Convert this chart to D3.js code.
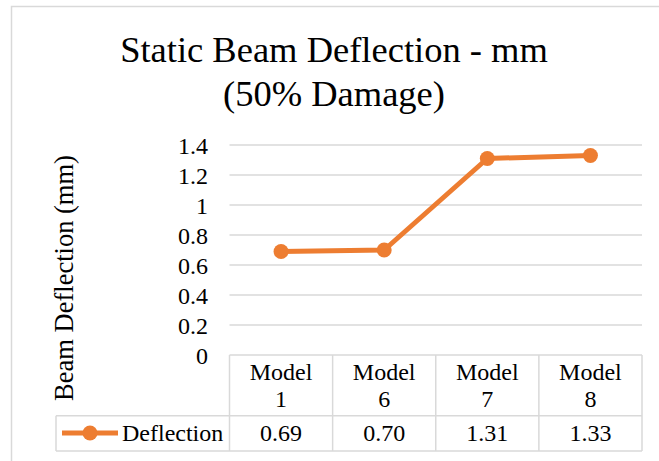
<!DOCTYPE html>
<html>
<head>
<meta charset="utf-8">
<script src="https://cdn.jsdelivr.net/npm/d3@7"></script>
<style>
  html, body { margin: 0; padding: 0; background: #fff; }
  svg text { font-family: 'Liberation Serif', 'Times New Roman', Times, serif; }
</style>
</head>
<body>
<svg id="chart" width="659" height="461" font-family="Liberation Serif, serif"></svg>
<script>
const categories = ["Model 1", "Model 6", "Model 7", "Model 8"];
const deflection = [0.69, 0.70, 1.31, 1.33];
const valueLabels = ["0.69", "0.70", "1.31", "1.33"];
const yTicks = [0, 0.2, 0.4, 0.6, 0.8, 1, 1.2, 1.4];
const seriesName = "Deflection";
const titleLines = ["Static Beam Deflection - mm", "(50% Damage)"];
const yTitle = "Beam Deflection (mm)";

const FONT = "Liberation Serif, serif";
const svg = d3.select("#chart");
const orange = "#ED7D31";
const grid = "#D9D9D9";

// outer chart border (extends beyond view on right/bottom)
svg.append("rect").attr("x", 11.5).attr("y", 6.5).attr("width", 720).attr("height", 520)
  .attr("fill", "#fff").attr("stroke", grid).attr("stroke-width", 1.5);

const x = d3.scaleBand().domain(categories).range([229.5, 642]).padding(0);
const y = d3.scaleLinear().domain([0, 1.4]).range([355, 145]);

// title
svg.append("text").attr("text-anchor", "middle").attr("font-family", FONT)
  .attr("font-size", 36.5).attr("fill", "#000")
  .selectAll("tspan").data(titleLines).join("tspan")
  .attr("x", 334).attr("y", (d, i) => 62 + i * 44).text(d => d);

// gridlines
svg.append("g").selectAll("line").data(yTicks.filter(d => d > 0)).join("line")
  .attr("x1", 229.5).attr("x2", 642).attr("y1", d => y(d)).attr("y2", d => y(d))
  .attr("stroke", grid).attr("stroke-width", 1.5);

// y axis labels
const yAxis = d3.axisLeft(y).tickValues(yTicks).tickSize(0).tickPadding(0).tickFormat(d3.format("~g"));
const yg = svg.append("g").attr("transform", "translate(208,0)").call(yAxis)
  .attr("font-family", FONT).attr("font-size", 24);
yg.select(".domain").remove();
yg.selectAll("text").attr("font-family", FONT).attr("font-size", 24)
  .attr("fill", "#000").attr("dy", "0.34em").attr("x", 0);

// y axis title
svg.append("text").attr("transform", "translate(73,278) rotate(-90)").attr("font-family", FONT)
  .attr("text-anchor", "middle").attr("font-size", 26.5).attr("fill", "#000").text(yTitle);

// data table
const tLeft = 56, tTop = y(0), tMid = 415.7, tBot = 451, tRight = x.range()[1];
const tg = svg.append("g").attr("stroke", grid).attr("stroke-width", 1.5).attr("fill", "none");
tg.append("line").attr("x1", x.range()[0]).attr("x2", tRight).attr("y1", tTop).attr("y2", tTop);
tg.append("line").attr("x1", tLeft).attr("x2", tRight).attr("y1", tMid).attr("y2", tMid);
tg.append("line").attr("x1", tLeft).attr("x2", tRight).attr("y1", tBot).attr("y2", tBot);
tg.append("line").attr("x1", tLeft).attr("x2", tLeft).attr("y1", tMid).attr("y2", tBot);
const cols = categories.map(c => x(c)).concat([tRight]);
tg.selectAll("line.col").data(cols).join("line").attr("class", "col")
  .attr("x1", d => d).attr("x2", d => d).attr("y1", tTop).attr("y2", tBot);

// category labels (two lines)
const catG = svg.append("g").attr("font-family", FONT).attr("font-size", 24)
  .attr("text-anchor", "middle").attr("fill", "#000");
categories.forEach(c => {
  const parts = c.split(" ");
  const cx = x(c) + x.bandwidth() / 2;
  const t = catG.append("text").attr("font-family", FONT);
  t.append("tspan").attr("x", cx).attr("y", 380).text(parts[0]);
  t.append("tspan").attr("x", cx).attr("y", 407).text(parts[1]);
});
// values row
svg.append("g").attr("font-family", FONT).attr("font-size", 24).attr("text-anchor", "middle").attr("fill", "#000")
  .selectAll("text").data(categories).join("text").attr("font-family", FONT)
  .attr("x", c => x(c) + x.bandwidth() / 2).attr("y", 441)
  .text((c, i) => valueLabels[i]);

// legend key
svg.append("line").attr("x1", 62).attr("x2", 118).attr("y1", 433).attr("y2", 433)
  .attr("stroke", orange).attr("stroke-width", 5);
svg.append("circle").attr("cx", 90).attr("cy", 433).attr("r", 7.5).attr("fill", orange);
svg.append("text").attr("x", 122).attr("y", 441).attr("font-family", FONT)
  .attr("font-size", 24).attr("fill", "#000").text(seriesName);

// line series
const pts = categories.map((c, i) => [x(c) + x.bandwidth() / 2, y(deflection[i])]);
svg.append("path").attr("d", d3.line()(pts)).attr("fill", "none")
  .attr("stroke", orange).attr("stroke-width", 5).attr("stroke-linejoin", "round");
svg.append("g").selectAll("circle").data(pts).join("circle")
  .attr("cx", d => d[0]).attr("cy", d => d[1]).attr("r", 7.5).attr("fill", orange);
</script>
</body>
</html>
